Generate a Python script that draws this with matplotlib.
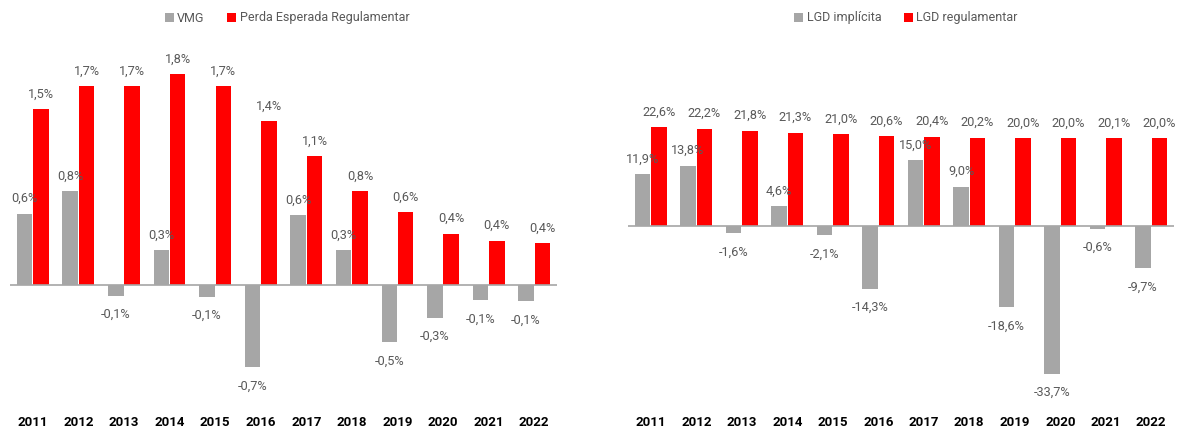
import numpy as np
import matplotlib
matplotlib.use("Agg")
import matplotlib.pyplot as plt

plt.rcParams['font.family'] = ['Roboto', 'DejaVu Sans']

# data
years = ['2011', '2012', '2013', '2014', '2015', '2016',
         '2017', '2018', '2019', '2020', '2021', '2022']
vmg = [0.61, 0.80, -0.09, 0.30, -0.10, -0.70, 0.60, 0.30, -0.49, -0.28, -0.13, -0.14]
perda_reg = [1.50, 1.70, 1.70, 1.80, 1.70, 1.40, 1.10, 0.80, 0.62, 0.44, 0.38, 0.36]
lgd_impl = [11.9, 13.8, -1.6, 4.6, -2.1, -14.3, 15.0, 9.0, -18.6, -33.7, -0.6, -9.7]
lgd_reg = [22.6, 22.2, 21.8, 21.3, 21.0, 20.6, 20.4, 20.2, 20.0, 20.0, 20.1, 20.0]

GRAY = '#A6A6A6'
RED = '#FF0000'
TXT = '#595959'

W, H = 1177, 428


def fmt(v):
    return f"{v:.1f}".replace('.', ',') + '%'


def draw(ax, gvals, rvals, ylim):
    x = np.arange(len(years))
    bw = 0.34
    bg = ax.bar(x - 0.18, gvals, bw, color=GRAY, zorder=2)
    br = ax.bar(x + 0.18, rvals, bw, color=RED, zorder=2)
    ax.axhline(0, color=GRAY, lw=1.2, zorder=3)
    for bars, vals in ((bg, gvals), (br, rvals)):
        for b, v in zip(bars, vals):
            cx = b.get_x() + b.get_width() / 2
            off = 15 if v >= 0 else -19
            ax.annotate(fmt(v), (cx, v), xytext=(0, off),
                        textcoords='offset pixels', ha='center', va='center',
                        fontsize=9.2, color=TXT, zorder=4)
    ax.set_xlim(-0.5, 11.5)
    ax.set_ylim(*ylim)
    ax.set_xticks(x)
    ax.set_xticklabels(years, fontsize=9.5, fontweight='bold', color='black')
    ax.tick_params(axis='x', length=0, pad=8)
    ax.set_yticks([])
    for s in ax.spines.values():
        s.set_visible(False)
    return bg, br


fig = plt.figure(figsize=(W / 100, H / 100), dpi=100)
top, bot = 30, 405
ax1 = fig.add_axes([10 / W, (H - bot) / H, 547 / W, (bot - top) / H])
ax2 = fig.add_axes([628 / W, (H - bot) / H, 546 / W, (bot - top) / H])

g1, r1 = draw(ax1, vmg, perda_reg, (-(bot - 285) / 117, (285 - top) / 117))
g2, r2 = draw(ax2, lgd_impl, lgd_reg, (-(bot - 226) / 4.38, (226 - top) / 4.38))

legkw = dict(ncol=2, frameon=False, fontsize=9, labelcolor=TXT,
             handlelength=0.7, handleheight=0.7, handletextpad=0.3,
             columnspacing=1.8, loc='center')
fig.legend([g1, r1], ['VMG', 'Perda Esperada Regulamentar'],
           bbox_to_anchor=(287 / W, 1 - 18 / H), **legkw)
fig.legend([g2, r2], ['LGD implícita', 'LGD regulamentar'],
           bbox_to_anchor=(906 / W, 1 - 18 / H), **legkw)

fig.savefig('out.png', dpi=100)
